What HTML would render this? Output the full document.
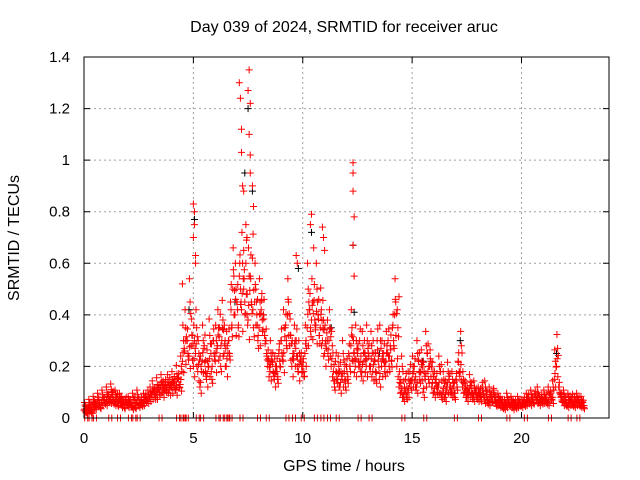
<!DOCTYPE html>
<html><head><meta charset="utf-8"><style>
body{margin:0;background:#fff}
svg{display:block;font-family:"Liberation Sans",sans-serif}
</style></head><body>
<svg id="c" width="640" height="480">
<rect width="640" height="480" fill="#fff"/>
<g id="grid"></g>
<g id="black"></g>
<g id="red"></g>
<rect x="84" y="57" width="525" height="361" fill="none" stroke="#000" stroke-width="1"/>
<g id="ticks"></g>
<text x="344" y="32" text-anchor="middle" font-size="16">Day 039 of 2024, SRMTID for receiver aruc</text>
<text x="344" y="471" text-anchor="middle" font-size="16">GPS time / hours</text>
<text transform="translate(19,238) rotate(-90)" text-anchor="middle" font-size="16">SRMTID / TECUs</text>
</svg>
<script>
const xTicks=[0,5,10,15,20];
const yTicks=[0,0.2,0.4,0.6,0.8,1,1.2,1.4];
const yTickLabels=["0","0.2","0.4","0.6","0.8","1","1.2","1.4"];
const seriesA=[.03,.02,.04,.03,.05,.04,.06,.05,.06,.07,.06,.08,.07,.09,.06,.08,.07,.05,.06,.07,.05,.06,.04,.07,.06,.05,.07,.06,.08,.07,.08,.09,.1,.09,.11,.12,.1,.13,.12,.11,.12,.14,.11,.15,.13,.22,.26,.3,.24,.28,.2,.25,.18,.12,.22,.28,.15,.2,.25,.3,.22,.28,.35,.3,.25,.2,.3,.45,.5,.4,.45,.55,.42,.5,.6,.38,.55,.62,.45,.4,.35,.42,.4,.3,.2,.18,.22,.15,.2,.25,.3,.22,.35,.4,.28,.2,.25,.3,.18,.22,.2,.25,.35,.42,.38,.45,.36,.4,.35,.3,.25,.33,.3,.2,.18,.22,.15,.12,.15,.18,.2,.25,.28,.22,.2,.25,.3,.18,.22,.2,.25,.2,.18,.22,.3,.15,.2,.25,.22,.3,.28,.35,.4,.2,.12,.1,.08,.15,.1,.18,.15,.2,.12,.22,.18,.1,.15,.25,.2,.12,.1,.15,.12,.18,.1,.08,.12,.15,.1,.12,.15,.22,.18,.12,.1,.08,.1,.12,.08,.1,.08,.1,.12,.07,.09,.06,.08,.1,.07,.06,.05,.06,.04,.05,.06,.05,.04,.06,.05,.06,.05,.07,.06,.08,.06,.07,.09,.07,.06,.08,.07,.08,.06,.09,.07,.15,.2,.12,.08,.06,.07,.05,.06,.08,.05,.06,.07,.05,.06];
const seriesB=[.05,.03,.06,.02,.07,.05,.08,.04,.09,.06,.1,.07,.11,.06,.09,.05,.08,.07,.04,.06,.07,.05,.08,.04,.09,.06,.05,.08,.07,.09,.1,.12,.08,.13,.1,.14,.12,.11,.14,.13,.15,.12,.17,.13,.2,.3,.35,.25,.45,.32,.3,.35,.25,.2,.3,.18,.22,.32,.15,.25,.3,.35,.2,.38,.3,.28,.25,.35,.55,.5,.35,.5,.6,.45,.4,.55,.45,.35,.5,.3,.45,.38,.32,.25,.22,.25,.18,.2,.15,.22,.25,.35,.3,.45,.32,.25,.3,.2,.25,.2,.18,.3,.5,.35,.45,.38,.5,.32,.42,.38,.3,.25,.35,.28,.12,.15,.2,.18,.25,.12,.15,.2,.35,.25,.3,.22,.18,.28,.25,.3,.2,.28,.25,.15,.22,.3,.25,.18,.28,.2,.22,.3,.45,.35,.15,.2,.12,.08,.15,.12,.2,.12,.25,.15,.22,.18,.28,.15,.22,.18,.15,.1,.2,.08,.15,.12,.18,.1,.15,.08,.12,.18,.28,.15,.12,.1,.14,.08,.12,.08,.1,.07,.09,.12,.06,.1,.07,.09,.05,.08,.07,.04,.06,.08,.05,.07,.06,.04,.07,.05,.06,.05,.08,.06,.09,.06,.08,.1,.07,.06,.09,.06,.1,.08,.12,.22,.27,.1,.07,.09,.05,.08,.07,.05,.07,.08,.05,.07,.04];
const spikeTimes=[4.5,5.0,5.05,5.05,5.0,5.1,5.1,7.1,7.15,7.2,7.2,7.25,7.3,7.55,7.5,7.6,7.55,7.6,7.7,7.75,7.6,7.4,7.45,7.3,9.7,9.75,10.4,10.35,10.5,10.9,10.95,11.0,12.3,12.3,12.3,12.35,12.3,12.35,14.4];
const spikeValues=[.52,.83,.8,.75,.7,.63,.6,1.3,1.24,1.12,1.03,.9,.88,1.35,1.27,1.22,1.1,1.02,.9,.82,.95,.75,.7,.65,.63,.6,.79,.75,.66,.74,.7,.65,.99,.95,.88,.78,.67,.55,.47];
const zeroTimes=[0.1,0.3,0.5,1.2,1.6,2.1,2.3,2.5,3.5,4.3,4.5,4.6,4.7,5.2,5.4,6.1,6.3,6.5,6.6,6.7,7.2,8.0,8.4,9.3,9.6,10.0,10.6,10.9,11.2,11.6,12.6,13.1,14.6,15.6,17.0,18.1,19.4,20.2,21.3,22.2,22.6];
const blackTimes=[5.05,7.35,7.5,7.7,9.8,10.4,12.3,12.35,4.8,6.9,8.2,11.3,13.5,15.5,17.2,21.6];
const blackValues=[.77,.95,1.2,.88,.58,.72,.67,.41,.42,.45,.4,.35,.25,.22,.3,.25];
const X0=84,X1=609,Y0=418,Y1=57;
const sx=t=>X0+t/24*(X1-X0);
const sy=v=>Y0-v/1.4*(Y0-Y1);
const NS="http://www.w3.org/2000/svg";
function mk(tag,attrs,parent){const e=document.createElementNS(NS,tag);for(const k in attrs)e.setAttribute(k,attrs[k]);parent.appendChild(e);return e;}
const grid=document.getElementById('grid'),ticks=document.getElementById('ticks');
xTicks.forEach(t=>{const x=sx(t);
 if(t>0){const g=mk('line',{x1:x,x2:x,y1:Y1,y2:Y0,stroke:'#a0a0a0','stroke-dasharray':'2,3'},grid);
 
 }
 const tk=mk('path',{d:`M${x},${Y0}v-6M${x},${Y1}v6`,stroke:'#000'},ticks);
 
 
 const l=mk('text',{x:x,y:443,'text-anchor':'middle','font-size':15},ticks);l.textContent=t;
 
 });
yTicks.forEach((v,i)=>{const y=sy(v);
 if(i>0&&i<yTicks.length-1){const g=mk('line',{x1:X0,x2:X1,y1:y,y2:y,stroke:'#a0a0a0','stroke-dasharray':'2,3'},grid);
 
 }
 const tk=mk('path',{d:`M${X0},${y}h6M${X1},${y}h-6`,stroke:'#000'},ticks);
 
 
 const l=mk('text',{x:X0-14,y:y+5,'text-anchor':'end','font-size':15},ticks);l.textContent=yTickLabels[i];
 
 });
function plus(t,v,col,g){const x=sx(t),y=sy(v);
 const p=mk('path',{d:`M${x-3.5},${y}h7M${x},${y-3.5}v7`,stroke:col,'stroke-width':1},g);
 
 }
const red=document.getElementById('red'),black=document.getElementById('black');
blackTimes.forEach((t,i)=>plus(t,blackValues[i],'#000',black));
seriesA.forEach((v,i)=>{plus(i*0.1,v,'#f00',red);plus(i*0.1+0.03,v*1.15,'#f00',red);plus(i*0.1+0.06,v*0.8,'#f00',red);});
seriesB.forEach((v,i)=>{plus(i*0.1+0.05,v,'#f00',red);plus(i*0.1+0.08,v*0.9,'#f00',red);plus(i*0.1+0.02,v*1.2,'#f00',red);});
spikeTimes.forEach((t,i)=>plus(t,spikeValues[i],'#f00',red));
zeroTimes.forEach(t=>{const x=sx(t);const p=mk('path',{d:`M${x-1.5},${Y0-3.5}v7M${x+1.5},${Y0-3.5}v7`,stroke:'#f00'},red);
 
 });
</script>
</body></html>
